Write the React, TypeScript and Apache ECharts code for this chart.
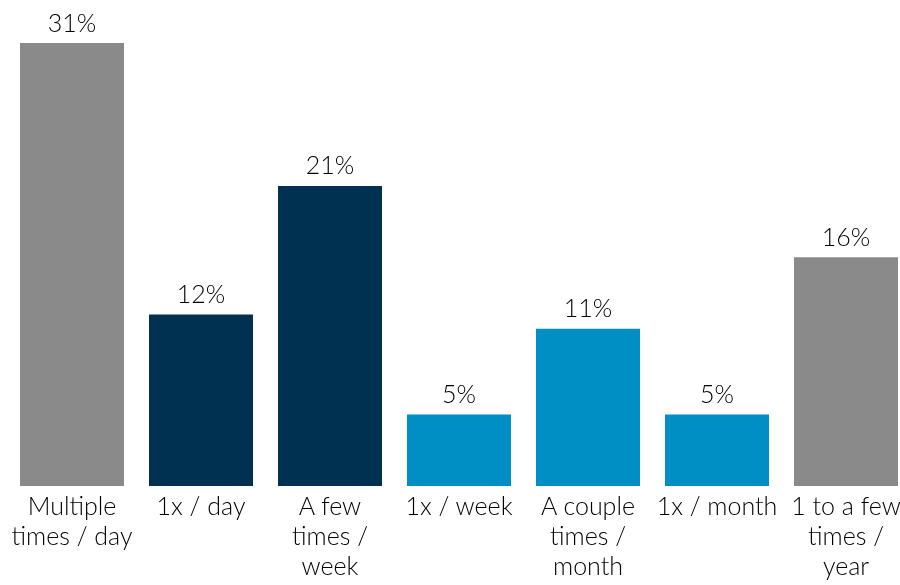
import React, { useEffect, useRef } from "react";
import * as echarts from "echarts";

const categories = [
  "Multiple\ntimes / day",
  "1x / day",
  "A few\ntimes /\nweek",
  "1x / week",
  "A couple\ntimes /\nmonth",
  "1x / month",
  "1 to a few\ntimes /\nyear",
];
const values = [31, 12, 21, 5, 11, 5, 16];
const barColors = ["#8a8a8a", "#003150", "#003150", "#008fc4", "#008fc4", "#008fc4", "#8a8a8a"];

export default function App() {
  const ref = useRef<HTMLDivElement>(null);
  useEffect(() => {
    if (!ref.current) return;
    const chart = echarts.init(ref.current, null, { renderer: "svg" });
    const font = "Lato, 'Noto Sans', sans-serif";
    chart.setOption({
      animation: false,
      grid: {
        left: 7.5,
        width: 903,
        top: 43,
        height: 443,
        containLabel: false,
        outerBoundsMode: "none",
      },
      xAxis: {
        type: "category",
        data: categories,
        axisLine: { show: false },
        axisTick: { show: false },
        axisLabel: {
          interval: 0,
          margin: 4,
          fontSize: 25,
          lineHeight: 30,
          color: "#000000",
          fontFamily: font,
          fontWeight: 300,
          verticalAlign: "top",
        },
      },
      yAxis: { type: "value", min: 0, max: 31, show: false, splitLine: { show: false } },
      series: [
        {
          type: "bar",
          barWidth: 104,
          data: values.map((v, i) => ({ value: v, itemStyle: { color: barColors[i] } })),
          label: {
            show: true,
            position: "top",
            distance: 9,
            formatter: "{c}%",
            fontSize: 25,
            fontWeight: 300,
            color: "#000000",
            fontFamily: font,
          },
        },
      ],
    });
    return () => chart.dispose();
  }, []);
  return (
    <div
      ref={ref}
      style={{ position: "fixed", left: 0, top: 0, width: 900, height: 585 }}
    />
  );
}
